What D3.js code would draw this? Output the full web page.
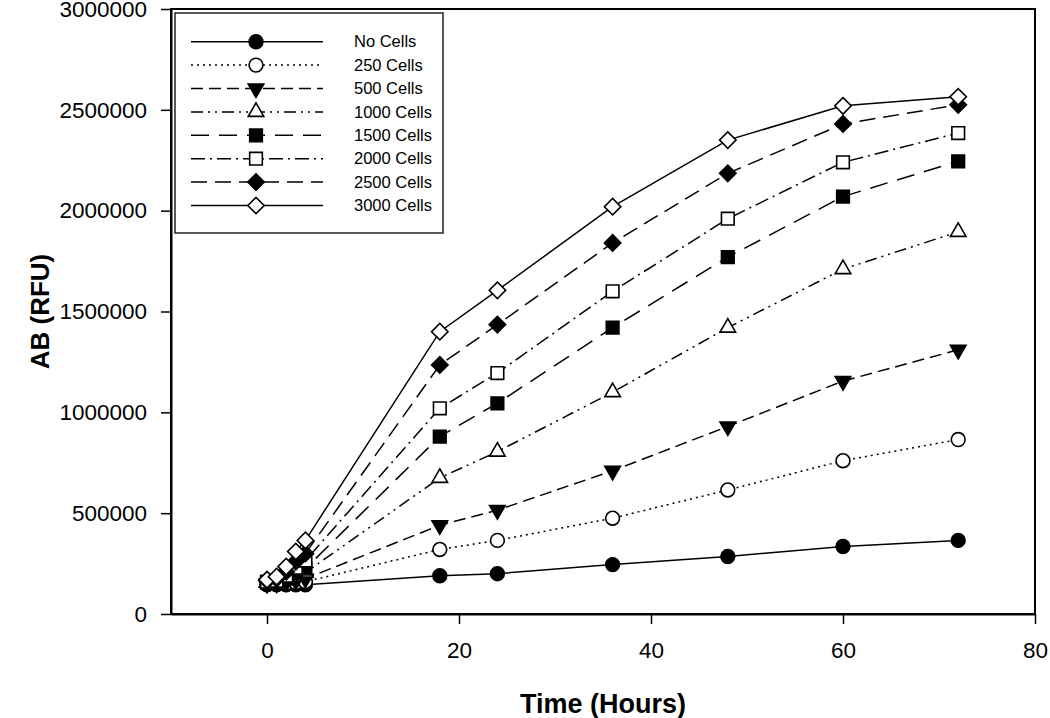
<!DOCTYPE html>
<html>
<head>
<meta charset="utf-8">
<script src="https://cdn.jsdelivr.net/npm/d3@7"></script>
<style>
  html, body { margin: 0; padding: 0; background: #fff; }
  svg { display: block; font-family: "Liberation Sans", Arial, sans-serif; }
</style>
</head>
<body>
<svg id="chart" width="1050" height="718"></svg>
<script>
// ---- data ----
const times = [0, 1, 2, 3, 4, 18, 24, 36, 48, 60, 72];
const seriesNames = ["No Cells", "250 Cells", "500 Cells", "1000 Cells", "1500 Cells", "2000 Cells", "2500 Cells", "3000 Cells"];
const noCells   = [145000, 145000, 145000, 145000, 145000, 190000, 200000, 245000, 285000, 335000, 365000];
const cells250  = [150000, 150000, 152000, 155000, 160000, 320000, 365000, 475000, 615000, 760000, 865000];
const cells500  = [150000, 152000, 158000, 165000, 175000, 440000, 515000, 710000, 930000, 1155000, 1310000];
const cells1000 = [155000, 158000, 170000, 185000, 205000, 675000, 805000, 1100000, 1420000, 1710000, 1895000];
const cells1500 = [155000, 160000, 175000, 200000, 225000, 880000, 1045000, 1420000, 1770000, 2070000, 2245000];
const cells2000 = [160000, 165000, 190000, 230000, 265000, 1020000, 1195000, 1600000, 1960000, 2240000, 2385000];
const cells2500 = [165000, 175000, 210000, 260000, 300000, 1235000, 1435000, 1840000, 2185000, 2430000, 2525000];
const cells3000 = [170000, 185000, 235000, 310000, 365000, 1400000, 1605000, 2020000, 2350000, 2520000, 2565000];
const xTicks = [0, 20, 40, 60, 80];
const yTicks = [0, 500000, 1000000, 1500000, 2000000, 2500000, 3000000];
const xTitle = "Time (Hours)";
const yTitle = "AB (RFU)";

// ---- styles per series ----
const styles = [
  { dash: null,              symbol: "circle",   fill: "#000", rot: 0 },
  { dash: "2,4",             symbol: "circle",   fill: "#fff", rot: 0 },
  { dash: "12,6",            symbol: "triangle", fill: "#000", rot: 180 },
  { dash: "12,5,2,5,2,5",    symbol: "triangle", fill: "#fff", rot: 0 },
  { dash: "18,10",           symbol: "square",   fill: "#000", rot: 0 },
  { dash: "14,5,2,5",        symbol: "square",   fill: "#fff", rot: 0 },
  { dash: "16,8",            symbol: "diamond",  fill: "#000", rot: 45 },
  { dash: null,              symbol: "diamond",  fill: "#fff", rot: 45 }
];
const allSeries = [noCells, cells250, cells500, cells1000, cells1500, cells2000, cells2500, cells3000];

const symbolTypes = {
  circle: [d3.symbolCircle, 150],
  triangle: [d3.symbolTriangle, 105],
  square: [d3.symbolSquare, 160],
  diamond: [d3.symbolSquare, 135]
};
function symPath(name) {
  const [t, s] = symbolTypes[name];
  return d3.symbol().type(t).size(s)();
}

const svg = d3.select("#chart");
const pL = 171, pR = 1035, pT = 9, pB = 614;
const x = d3.scaleLinear().domain([-10, 80]).range([pL, pR]);
const y = d3.scaleLinear().domain([0, 3000000]).range([pB, pT]);

// frame
svg.append("rect").attr("x", pL).attr("y", pT).attr("width", pR - pL).attr("height", pB - pT)
  .attr("fill", "none").attr("stroke", "#000").attr("stroke-width", 2);

// axes
const xAxis = svg.append("g").attr("transform", `translate(0,${pB})`)
  .call(d3.axisBottom(x).tickValues(xTicks).tickSize(10).tickSizeOuter(0).tickPadding(18));
const yAxis = svg.append("g").attr("transform", `translate(${pL},0)`)
  .call(d3.axisLeft(y).tickValues(yTicks).tickFormat(d3.format("d")).tickSize(10).tickSizeOuter(0).tickPadding(14));
[xAxis, yAxis].forEach(g => {
  g.select(".domain").attr("stroke", "#000").attr("stroke-width", 2);
  g.selectAll(".tick line").attr("stroke", "#000").attr("stroke-width", 1.5);
  g.selectAll(".tick text").attr("fill", "#000").style("font-size", "22.5px")
    .style("font-family", "'Liberation Sans', Arial, sans-serif");
});
xAxis.selectAll(".tick text").attr("dy", "0.71em");

// titles
svg.append("text").attr("x", 603).attr("y", 713).attr("text-anchor", "middle")
  .style("font-size", "27px").style("font-weight", "bold").text(xTitle);
svg.append("text").attr("transform", `translate(49,${(pT + pB) / 2}) rotate(-90)`)
  .attr("text-anchor", "middle").style("font-size", "26px").style("font-weight", "bold").text(yTitle);

// series
const line = d3.line().x((d, i) => x(times[i])).y(d => y(d));
allSeries.forEach((vals, si) => {
  const st = styles[si];
  const g = svg.append("g");
  g.append("path").datum(vals).attr("d", line).attr("fill", "none").attr("stroke", "#000")
    .attr("stroke-width", 1.5).attr("stroke-dasharray", st.dash);
  g.selectAll("path.m").data(vals).enter().append("path").attr("class", "m")
    .attr("d", symPath(st.symbol))
    .attr("transform", (d, i) => `translate(${x(times[i])},${y(d)}) rotate(${st.rot})`)
    .attr("fill", st.fill).attr("stroke", "#000").attr("stroke-width", 1.6);
});

// legend
const lg = svg.append("g");
lg.append("rect").attr("x", 175).attr("y", 13).attr("width", 268).attr("height", 220)
  .attr("fill", "#fff").attr("stroke", "#222").attr("stroke-width", 1.5);
seriesNames.forEach((name, i) => {
  const st = styles[i];
  const yy = 41.7 + i * 23.4;
  lg.append("line").attr("x1", 191).attr("x2", 323).attr("y1", yy).attr("y2", yy)
    .attr("stroke", "#000").attr("stroke-width", 1.5).attr("stroke-dasharray", st.dash);
  lg.append("path").attr("d", symPath(st.symbol))
    .attr("transform", `translate(256,${yy}) rotate(${st.rot})`)
    .attr("fill", st.fill).attr("stroke", "#000").attr("stroke-width", 1.6);
  lg.append("text").attr("x", 354).attr("y", yy).attr("dy", "0.35em")
    .style("font-size", "16.5px").attr("fill", "#000").text(name);
});
</script>
</body>
</html>
